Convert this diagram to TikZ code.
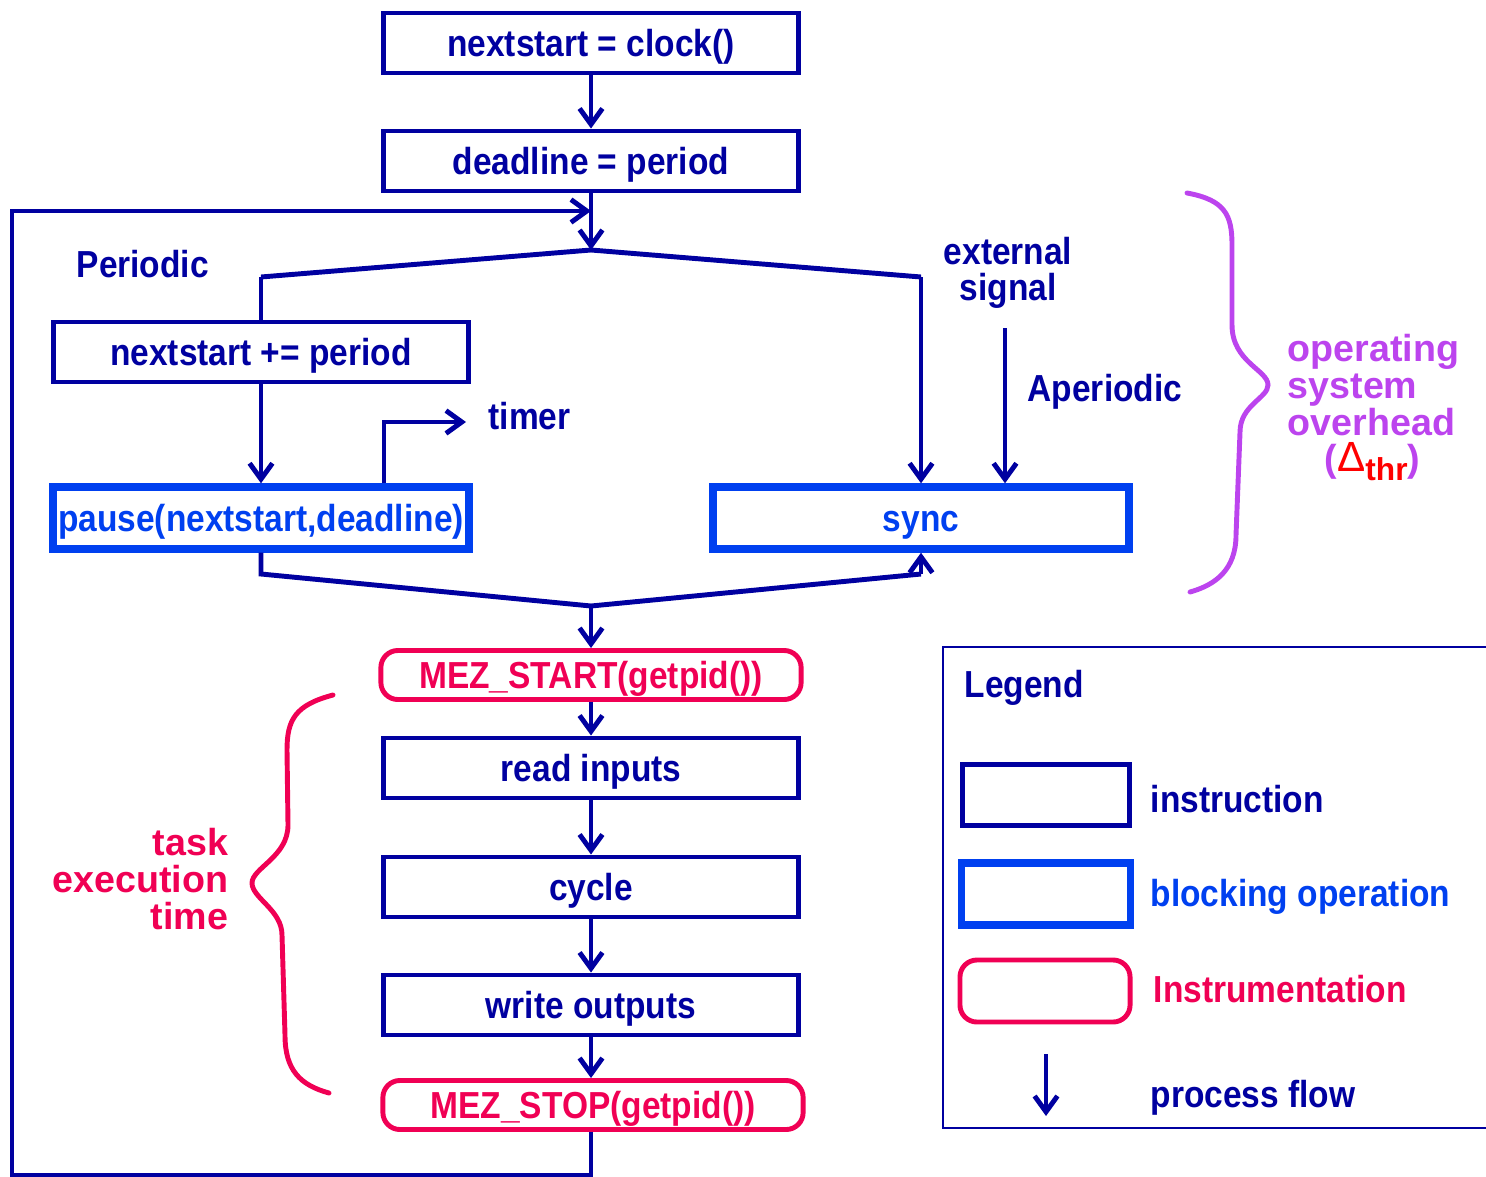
\documentclass[tikz,border=0pt]{standalone}
\usepackage{fontspec}
\setmainfont[FakeStretch=0.89]{Liberation Sans}
\newfontfamily\notefont{Liberation Sans}
\usetikzlibrary{arrows.meta}

\definecolor{instrblue}{RGB}{0,0,160}
\definecolor{blockblue}{RGB}{0,64,240}
\definecolor{mezred}{RGB}{240,0,84}
\definecolor{ospurple}{RGB}{188,68,238}
\definecolor{deltared}{RGB}{255,0,0}

\begin{document}
\begin{tikzpicture}[x=0.01cm,y=-0.01cm,
    font=\fontsize{10.7}{10.3}\selectfont\bfseries,
    boxtext/.style={inner sep=0pt,text height=7.7pt,text depth=0pt},
    instrbox/.style={boxtext,draw=instrblue,line width=1.4pt,text=instrblue,
        minimum width=4.15cm,minimum height=0.6cm},
    blockbox/.style={boxtext,draw=blockblue,line width=2.1pt,text=blockblue,
        minimum width=4.16cm,minimum height=0.62cm},
    mezbox/.style={boxtext,draw=mezred,line width=1.4pt,rounded corners=0.17cm,
        text=mezred,minimum width=4.2cm,minimum height=0.49cm},
    flow/.style={draw=instrblue,line width=1.4pt},
    flowto/.style={flow,-{Straight Barb[length=4.5pt,width=6.5pt]}},
    label/.style={text=instrblue,inner sep=0pt},
    note/.style={inner sep=0pt,font=\fontsize{10.7}{10.4}\selectfont\notefont\bfseries},
    bracepen/.style={line width=1.4pt,line cap=round}]

    \useasboundingbox (0,0) rectangle (1486,1176);

    % Setup the chain of instructions
    \node [instrbox] (clock)    at (591,43)  {nextstart = clock()};
    \node [instrbox] (deadline) at (591,161) {deadline = period};
    \node [instrbox] (advance)  at (261,352) {nextstart += period};
    \node [blockbox] (pause)    at (261,518) {pause(nextstart,deadline)};
    \node [blockbox] (sync)     at (921,518) {sync};
    \node [mezbox]   (start)    at (591,675) {MEZ\_START(getpid())};
    \node [instrbox] (read)     at (591,768) {read inputs};
    \node [instrbox] (cycle)    at (591,887) {cycle};
    \node [instrbox] (write)    at (591,1005) {write outputs};
    \node [mezbox]   (stop)     at (593,1105) {MEZ\_STOP(getpid())};

    % Corners of the connectors
    \coordinate (merge)      at (591,211);
    \coordinate (fork)       at (591,250);
    \coordinate (fork left)  at (261,277);
    \coordinate (fork right) at (921,277);
    \coordinate (timer corner) at (384,422);
    \coordinate (timer end)  at (466,422);
    \coordinate (ext start)  at (1005,328);
    \coordinate (pause low)  at (261,574);
    \coordinate (join)       at (591,606);
    \coordinate (sync low)   at (921,574);
    \coordinate (loop bottom) at (591,1175);
    \coordinate (loop low)   at (12,1175);
    \coordinate (loop high)  at (12,211);

    % Draw the flow
    \draw [flowto] (clock) -- (deadline);
    \draw [flowto] (deadline) -- (fork);
    \draw [flow] (fork left) -- (fork) -- (fork right);
    \draw [flow] (fork left) -- (advance);
    \draw [flowto] (fork right) -- (sync);
    \draw [flowto] (advance) -- (pause);
    \draw [flowto] (pause.north -| timer corner) -- (timer corner) -- (timer end);
    \draw [flowto] (ext start) -- (sync.north -| ext start);
    \draw [flow] (pause) -- (pause low) -- (join) -- (sync low);
    \draw [flowto] (sync low) -- (sync);
    \draw [flowto] (join) -- (start);
    \draw [flowto] (start) -- (read);
    \draw [flowto] (read) -- (cycle);
    \draw [flowto] (cycle) -- (write);
    \draw [flowto] (write) -- (stop.north -| write);
    \draw [flowto] (stop.south -| loop bottom) -- (loop bottom) -- (loop low)
        -- (loop high) -- (merge);

    % And label them
    \node [label,anchor=base west] (periodic) at (76,277) {Periodic};
    \node [label,anchor=base west] (timer) at (488,429) {timer};
    \node [label,align=center] (ext) at (1008,273) {external\\signal};
    \node [label,anchor=base west] (aperiodic) at (1027,401) {Aperiodic};

    % The braces
    \draw [bracepen,ospurple] (1187,193) .. controls (1225,200) and (1232,215) .. (1232,245)
        -- (1232,325) .. controls (1232,362) and (1268,370) .. (1268,385)
        .. controls (1268,398) and (1240,405) .. (1240,432)
        -- (1236,535) .. controls (1236,570) and (1215,585) .. (1190,592);
    \node [note,text=ospurple,align=left,anchor=north west] (os) at (1287,334)
        {operating\\system\\overhead\\
        \hspace*{10.5pt}(\textcolor{deltared}{\mdseries\fontsize{12}{12}\selectfont Δ%
        \raisebox{-2.6pt}{\bfseries\fontsize{9}{9}\selectfont thr}})};

    \draw [bracepen,mezred] (333,695) .. controls (295,705) and (287,720) .. (287,750)
        -- (288,825) .. controls (288,857) and (252,868) .. (252,883)
        .. controls (252,898) and (282,910) .. (282,935)
        -- (285,1035) .. controls (285,1070) and (300,1085) .. (329,1093);
    \node [note,text=mezred,align=right,anchor=east] (task) at (229,879)
        {task\\execution\\time};

    % Finally, the legend
    \draw [instrblue,line width=0.6pt] (1490,647) -- (943,647) -- (943,1128) -- (1490,1128);
    \node [label,anchor=base west] (legend) at (964,697) {Legend};
    \node [instrbox,minimum width=1.67cm,minimum height=0.61cm] (key instr) at (1046,795) {};
    \node [blockbox,minimum width=1.69cm,minimum height=0.62cm] (key block) at (1046,894) {};
    \node [mezbox,minimum width=1.7cm,minimum height=0.62cm] (key mez) at (1045,991) {};
    \coordinate (key flow top) at (1046,1054);
    \coordinate (key flow end) at (1046,1116);
    \draw [flowto] (key flow top) -- (key flow end);
    \node [label,anchor=base west] at (1150,812) {instruction};
    \node [text=blockblue,inner sep=0pt,anchor=base west] at (1150,906) {blocking operation};
    \node [text=mezred,inner sep=0pt,anchor=base west] at (1153,1002) {Instrumentation};
    \node [label,anchor=base west] at (1150,1107) {process flow};
\end{tikzpicture}
\end{document}
